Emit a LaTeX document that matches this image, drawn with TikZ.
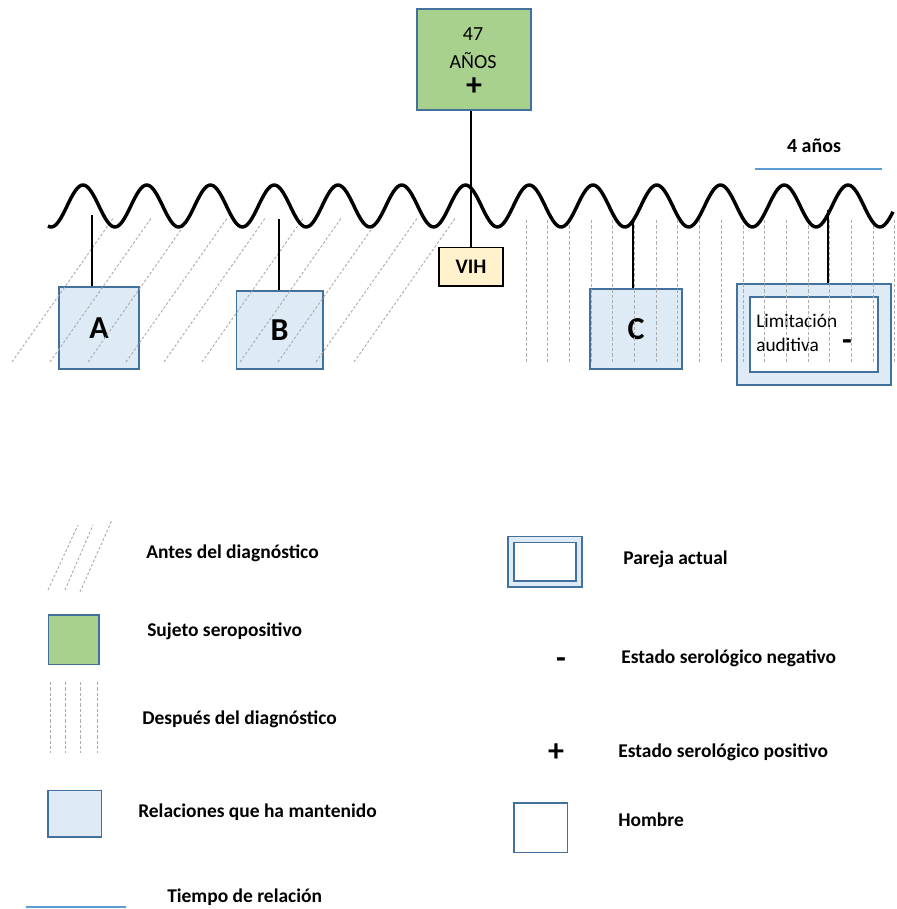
\documentclass[tikz,border=0pt]{standalone}
\usepackage{fontspec}
\setmainfont{Carlito}
\definecolor{verde}{HTML}{A9D18E}
\definecolor{celeste}{HTML}{DEEAF6}
\definecolor{borde}{HTML}{41719C}
\definecolor{crema}{HTML}{FFF2CC}
\definecolor{linea}{HTML}{5B9BD5}
\tikzset{
  caja/.style={draw=borde, line width=1pt, fill=celeste, inner sep=0pt},
  blanca/.style={draw=borde, line width=1pt, fill=white, inner sep=0pt},
  sujeto/.style={draw=borde, line width=1pt, fill=verde, inner sep=0pt},
  antes/.style={draw=gray!65, line width=0.7pt, dash pattern=on 2pt off 1.5pt},
  despues/.style={draw=gray!65, line width=0.7pt, dash pattern=on 2.5pt off 1.5pt},
  enlace/.style={draw, line width=2pt},
  onda/.style={draw, line width=2.6pt, line join=round},
  tiempo/.style={draw=linea, line width=1.5pt},
  leyenda/.style={anchor=west, inner sep=0pt, font=\bfseries\fontsize{14.6}{17}\selectfont},
  letra/.style={font=\bfseries\fontsize{24}{28}\selectfont},
  edadtxt/.style={inner sep=0pt, font=\fontsize{15}{18}\selectfont},
  signo/.style={inner sep=0pt, font=\bfseries\fontsize{24}{24}\selectfont}
}
\begin{document}
\begin{tikzpicture}[x=0.75pt, y=-0.75pt]
\useasboundingbox (0,0) rectangle (896,909);

\node[sujeto, minimum width=85.5pt, minimum height=75.75pt] (edad) at (474,59.5) {};
\node[edadtxt] (num) at (473,34) {47};
\node[edadtxt] (anos) at (473,61) {AÑOS};
\node[signo] (mas) at (474,87) {+};
\node[draw, line width=1pt, fill=crema, minimum width=48pt, minimum height=29pt, inner sep=0pt, font=\bfseries\fontsize{15.5}{18}\selectfont] (vih) at (471,266.5) {VIH};

\node[caja, letra, minimum width=60pt, minimum height=61.5pt] (A) at (99,328) {A};
\node[caja, letra, minimum width=65pt, minimum height=58.5pt] (B) at (279.5,330) {B};
\node[caja, letra, minimum width=69pt, minimum height=60pt] (C) at (636,329) {C};
\node[caja, minimum width=115.5pt, minimum height=75.75pt] (pareja) at (814,334.5) {};
\node[blanca, minimum width=96pt, minimum height=56.25pt] (parejain) at (814,334.5) {};
\node[anchor=west, align=left, inner sep=0pt, font=\fontsize{14.5}{17.5}\selectfont] (limit) at (756,333) {Limitación\\auditiva};
\node[signo] (menos) at (847,345) {-};

\foreach \x in {12,50,...,354}
  \path[antes] (\x,362) -- ++(102,-145);
\foreach \i in {0,...,17}
  \path[despues] ({526+21.7*\i},220) -- ++(0,142);

\path[onda] plot[domain=48:893, samples=400, smooth] (\x,{206-21*cos(5.647*(\x-83))});

\coordinate (tA) at (92,215);
\coordinate (tB) at (279,219);
\coordinate (tC) at (633,219);
\coordinate (tP) at (828,210);

\path[enlace] (vih.north |- edad.south) -- (vih.north);
\path[enlace] (tA) -- (tA |- A.north);
\path[enlace] (tB) -- (tB |- B.north);
\path[enlace] (tC) -- (tC |- C.north);
\path[enlace] (tP) -- (tP |- pareja.north);

\node[inner sep=0pt, font=\bfseries\fontsize{15}{18}\selectfont] (anios) at (814,146) {4 años};
\coordinate (t1) at (755,169);
\coordinate (t2) at (882,169);
\path[tiempo] (t1) -- (t2);

\path[antes] (48,590) -- (78,525);
\path[antes] (65,590) -- (93,525);
\path[antes] (80,592) -- (112,520);
\node[leyenda] (lantes) at (146,553) {Antes del diagnóstico};

\node[sujeto, minimum width=38pt, minimum height=37pt] (lverde) at (73.5,639.5) {};
\node[leyenda] (lsujeto) at (147,631) {Sujeto seropositivo};

\foreach \x in {50,65,80,97}
  \path[despues] (\x,682) -- (\x,753);
\node[leyenda] (ldespues) at (142,719) {Después del diagnóstico};

\node[caja, minimum width=40pt, minimum height=35pt] (lcaja) at (74.5,813.5) {};
\node[leyenda] (lrelaciones) at (138,812) {Relaciones que ha mantenido};

\coordinate (l1) at (26,907);
\coordinate (l2) at (126,907);
\path[tiempo] (l1) -- (l2);
\node[leyenda] (ltiempo) at (167,897) {Tiempo de relación};

\node[caja, minimum width=55.5pt, minimum height=38pt] (lpareja) at (545,561.5) {};
\node[blanca, minimum width=46.5pt, minimum height=29pt] (lparejain) at (545,561.5) {};
\node[leyenda] (lactual) at (623,559) {Pareja actual};

\node[signo] (lmenos) at (561,663) {-};
\node[leyenda] (lnegativo) at (621,658) {Estado serológico negativo};

\node[signo] (lmas) at (556,753) {+};
\node[leyenda] (lpositivo) at (618,752) {Estado serológico positivo};

\node[blanca, minimum width=40pt, minimum height=37pt] (lhombre) at (540.5,827.5) {};
\node[leyenda] (lhombretxt) at (618,820) {Hombre};
\end{tikzpicture}
\end{document}
